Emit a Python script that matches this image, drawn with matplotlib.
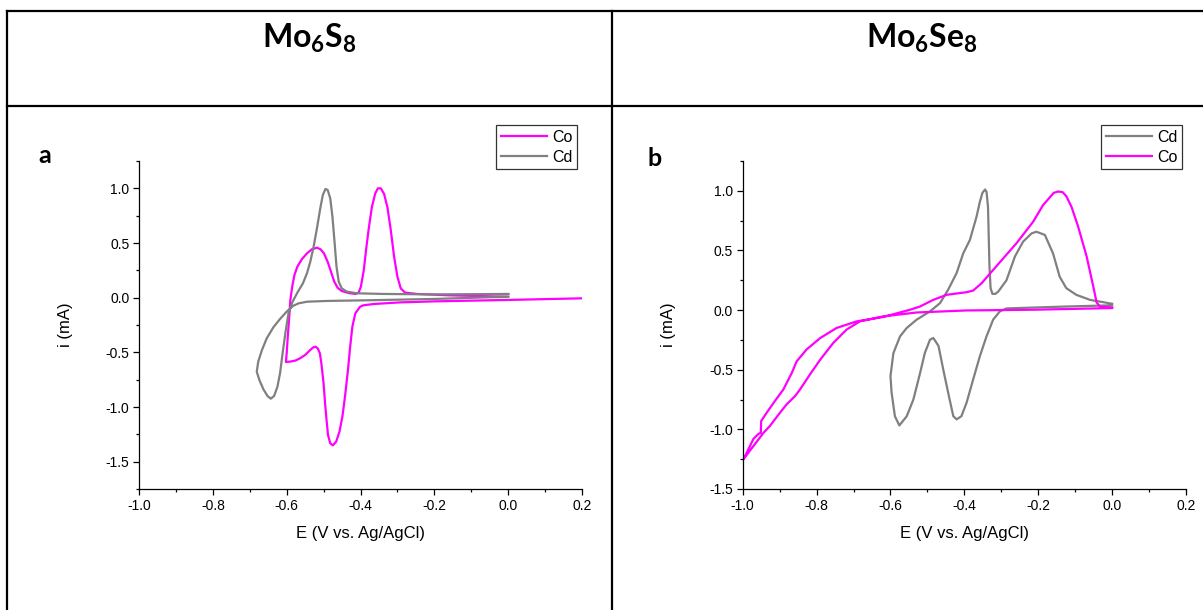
import matplotlib
matplotlib.use("Agg")
import matplotlib.pyplot as plt
from matplotlib.lines import Line2D
from matplotlib.ticker import MultipleLocator, FormatStrFormatter

plt.rcParams["font.family"] = ["Liberation Sans", "DejaVu Sans"]
plt.rcParams["mathtext.fontset"] = "custom"
plt.rcParams["mathtext.rm"] = "Lato:bold"
plt.rcParams["mathtext.it"] = "Lato:bold"
plt.rcParams["mathtext.bf"] = "Lato:bold"

# ---------------- data, E in V, i in mA
# panel a  Mo6S8
a_co_e = [0.200, -0.003, -0.202, -0.292, -0.365, -0.392, -0.401, -0.414, -0.422, -0.428, -0.434, -0.442, -0.449,
          -0.457, -0.466, -0.475, -0.482, -0.488, -0.492, -0.496, -0.500, -0.506, -0.510, -0.516, -0.522,
          -0.529, -0.538, -0.550, -0.564, -0.577, -0.591, -0.602,
          -0.600, -0.597, -0.593, -0.590, -0.585, -0.579, -0.571, -0.559, -0.545, -0.532, -0.518, -0.508,
          -0.499, -0.489, -0.480, -0.471, -0.462, -0.451, -0.433, -0.414, -0.405, -0.399, -0.391, -0.385,
          -0.377, -0.369, -0.360, -0.353, -0.345, -0.336, -0.327, -0.318, -0.309, -0.300, -0.291, -0.279,
          -0.247, -0.157, -0.003]
a_co_i = [-0.006, -0.021, -0.034, -0.043, -0.058, -0.070, -0.082, -0.143, -0.265, -0.448, -0.662, -0.905, -1.088,
          -1.226, -1.317, -1.351, -1.332, -1.256, -1.119, -0.966, -0.784, -0.601, -0.509, -0.463, -0.448,
          -0.457, -0.485, -0.524, -0.555, -0.576, -0.585, -0.588,
          -0.509, -0.357, -0.174, -0.021, 0.101, 0.207, 0.284, 0.351, 0.405, 0.442, 0.457, 0.442,
          0.405, 0.329, 0.238, 0.146, 0.091, 0.061, 0.043, 0.034, 0.046, 0.101, 0.253, 0.436,
          0.649, 0.832, 0.954, 1.000, 1.000, 0.948, 0.826, 0.619, 0.375, 0.192, 0.085, 0.046,
          0.034, 0.021, 0.009]

a_cd_e = [0.001, -0.202, -0.383, -0.491, -0.545, -0.568, -0.583, -0.600, -0.618, -0.636, -0.654, -0.667, -0.677,
          -0.681,
          -0.674, -0.663, -0.652, -0.643, -0.634, -0.625, -0.618, -0.611, -0.603, -0.595, -0.584, -0.571,
          -0.556, -0.545, -0.536, -0.527, -0.518, -0.509, -0.502, -0.495, -0.489, -0.482, -0.476, -0.470,
          -0.465, -0.459, -0.451, -0.437, -0.410, -0.338, -0.202, 0.001]
a_cd_i = [0.009, -0.012, -0.024, -0.030, -0.037, -0.052, -0.076, -0.128, -0.195, -0.271, -0.372, -0.479, -0.585,
          -0.677,
          -0.753, -0.838, -0.899, -0.924, -0.899, -0.814, -0.692, -0.509, -0.311, -0.143, -0.037, 0.046,
          0.131, 0.223, 0.329, 0.466, 0.634, 0.817, 0.939, 0.994, 0.985, 0.909, 0.741, 0.497,
          0.284, 0.146, 0.085, 0.055, 0.040, 0.034, 0.030, 0.034]

# panel b  Mo6Se8
b_cd_e = [0.000, -0.124, -0.286, -0.304, -0.322, -0.340, -0.358, -0.376, -0.394, -0.408, -0.421, -0.430, -0.444,
          -0.457, -0.470, -0.484, -0.493, -0.507, -0.520, -0.538, -0.556, -0.576, -0.588, -0.597, -0.600,
          -0.592, -0.574, -0.556, -0.529, -0.493, -0.466, -0.444, -0.421, -0.403, -0.385, -0.367, -0.358,
          -0.351, -0.344, -0.340, -0.336, -0.334, -0.332, -0.329, -0.324, -0.316, -0.308, -0.286, -0.263,
          -0.241, -0.218, -0.205, -0.182, -0.160, -0.142, -0.124, -0.097, -0.060, 0.000]
b_cd_i = [0.040, 0.030, 0.014, -0.011, -0.08, -0.22, -0.387, -0.58, -0.777, -0.89, -0.916, -0.889, -0.69,
          -0.50, -0.30, -0.234, -0.248, -0.36, -0.53, -0.75, -0.89, -0.967, -0.89, -0.69, -0.554,
          -0.36, -0.22, -0.15, -0.08, -0.011, 0.058, 0.17, 0.31, 0.476, 0.588, 0.783, 0.908,
          0.983, 1.011, 0.992, 0.866, 0.616, 0.365, 0.184, 0.136, 0.136, 0.156, 0.25, 0.45,
          0.574, 0.643, 0.657, 0.63, 0.476, 0.28, 0.184, 0.128, 0.086, 0.053]

b_co_e = [0.000, -0.214, -0.394, -0.529, -0.620, -0.683, -0.719, -0.755, -0.790, -0.818, -0.845, -0.858, -0.881,
          -0.899, -0.926, -0.944, -0.971, -0.998,
          -0.989, -0.971, -0.958, -0.951, -0.950, -0.935, -0.913, -0.890, -0.867, -0.854, -0.827, -0.790,
          -0.746, -0.692, -0.620, -0.547, -0.520, -0.484, -0.448, -0.394, -0.376, -0.353, -0.322, -0.259,
          -0.214, -0.187, -0.169, -0.158, -0.146, -0.134, -0.124, -0.110, -0.092, -0.069, -0.051, -0.042,
          -0.033, 0.000]
b_co_i = [0.017, 0.003, -0.003, -0.020, -0.053, -0.095, -0.164, -0.276, -0.415, -0.54, -0.666, -0.72, -0.79,
          -0.86, -0.97, -1.03, -1.14, -1.25,
          -1.195, -1.08, -1.04, -1.028, -0.93, -0.86, -0.763, -0.666, -0.526, -0.43, -0.33, -0.234,
          -0.15, -0.095, -0.058, 0.003, 0.03, 0.086, 0.128, 0.15, 0.164, 0.226, 0.337, 0.56,
          0.74, 0.88, 0.944, 0.983, 0.994, 0.989, 0.955, 0.866, 0.70, 0.45, 0.198, 0.064,
          0.03, 0.022]

col_titles = [r"Mo$_6$S$_8$", r"Mo$_6$Se$_8$"]
panel_tags = ["a", "b"]

CO_COLOR = "#ff00ff"
CD_COLOR = "#808080"

fig = plt.figure(figsize=(12.03, 6.10), dpi=100)
W, H = 1203., 610.


def px(x, y):
    """ pixel (from top left) to figure coords """
    return x / W, 1 - y / H


# ---------------- table lines round the two panels
tbl = dict(color="black", linewidth=1.6, solid_capstyle="projecting")
for xs, ys in [((7, 1203), (10.5, 10.5)), ((7, 1203), (106, 106)),
               ((7, 7), (10.5, 610)), ((612, 612), (10.5, 610))]:
    (x0, y0), (x1, y1) = px(xs[0], ys[0]), px(xs[1], ys[1])
    fig.add_artist(Line2D([x0, x1], [y0, y1], transform=fig.transFigure, **tbl))

title_font = dict(family=["Lato", "DejaVu Sans"], fontweight="bold")
for cx, txt in zip([309, 922], col_titles):
    fig.text(*px(cx, 38), txt, ha="center", va="center", fontsize=23, **title_font)
for (cx, cy), tag in zip([(45, 156), (655, 158)], panel_tags):
    fig.text(*px(cx, cy), tag, ha="center", va="center", fontsize=18, **title_font)


def setup_axes(ax, ylim):
    ax.set_xlim(-1.0, 0.2)
    ax.set_ylim(*ylim)
    ax.xaxis.set_major_locator(MultipleLocator(0.2))
    ax.xaxis.set_minor_locator(MultipleLocator(0.1))
    ax.yaxis.set_major_locator(MultipleLocator(0.5))
    ax.yaxis.set_minor_locator(MultipleLocator(0.25))
    ax.spines["top"].set_visible(False)
    ax.spines["right"].set_visible(False)
    for s in ("left", "bottom"):
        ax.spines[s].set_linewidth(0.9)
    ax.tick_params(which="major", direction="out", length=4, width=0.9, labelsize=10, pad=3)
    ax.tick_params(which="minor", direction="out", length=2.3, width=0.9)
    ax.xaxis.set_major_formatter(FormatStrFormatter("%.1f"))
    ax.yaxis.set_major_formatter(FormatStrFormatter("%.1f"))
    ax.set_xlabel("E (V vs. Ag/AgCl)", fontsize=12)
    ax.set_ylabel("i (mA)", fontsize=12)
    ax.xaxis.set_label_coords(0.5, -0.113)
    ax.yaxis.set_label_coords(-0.15, 0.5)


# ---------------- panel a
ax_a = fig.add_axes([139 / W, 1 - 489 / H, 443 / W, 328 / H])
ax_a.plot(a_co_e, a_co_i, color=CO_COLOR, linewidth=1.6, label="Co")
ax_a.plot(a_cd_e, a_cd_i, color=CD_COLOR, linewidth=1.6, label="Cd")
setup_axes(ax_a, (-1.75, 1.25))
ax_a.set_yticks([-1.5, -1.0, -0.5, 0.0, 0.5, 1.0])

# ---------------- panel b
ax_b = fig.add_axes([742.7 / W, 1 - 489 / H, 443.3 / W, 328 / H])
ax_b.plot(b_cd_e, b_cd_i, color=CD_COLOR, linewidth=1.6, label="Cd")
ax_b.plot(b_co_e, b_co_i, color=CO_COLOR, linewidth=1.6, label="Co")
setup_axes(ax_b, (-1.5, 1.25))

for ax, rx in [(ax_a, 0.989), (ax_b, 0.991)]:
    leg = ax.legend(loc="upper right", bbox_to_anchor=(rx, 1.11), fontsize=11.5, frameon=True,
                    fancybox=False, handlelength=2.9, handletextpad=0.3, borderpad=0.3,
                    labelspacing=0.3, borderaxespad=0)
    leg.get_frame().set_edgecolor("black")
    leg.get_frame().set_linewidth(0.9)

fig.savefig("out.png", dpi=100)
